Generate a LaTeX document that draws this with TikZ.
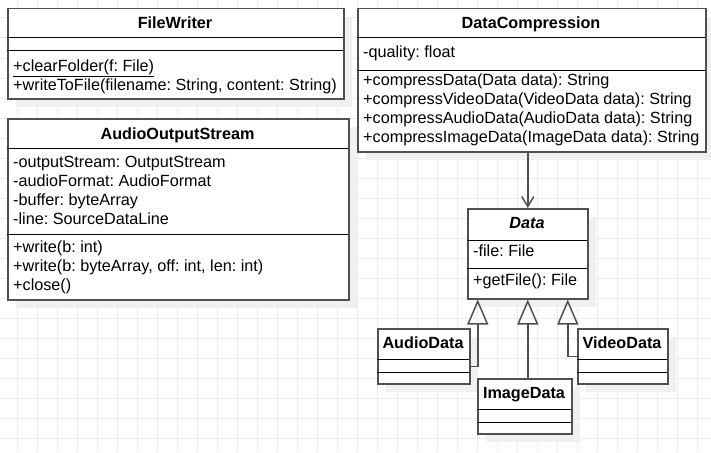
\documentclass[tikz,border=0pt]{standalone}
\usepackage{fontspec}
\setmainfont{Liberation Sans}
\usepackage{tikz}
\usetikzlibrary{arrows.meta, positioning, calc, shadows}
\usepackage{xcolor}
\definecolor{boxline}{RGB}{80,80,80}
\definecolor{gridgray}{RGB}{236,236,236}
\definecolor{shadowgray}{RGB}{240,240,240}
\frenchspacing

\begin{document}
\begin{tikzpicture}[x=1pt, y=-1pt,
  font=\fontsize{16.2}{19}\selectfont,
  classbox/.style={draw=boxline, line width=1.5pt, fill=white, anchor=north west, inner sep=0pt,
    drop shadow={shadow xshift=8pt, shadow yshift=-8pt, fill=shadowgray, opacity=1}},
  classtitle/.style={font=\fontsize{16.2}{19}\selectfont\bfseries, anchor=base, inner sep=0pt},
  member/.style={anchor=base west, inner sep=0pt},
  sep/.style={black, line width=1pt},
  inh/.style={boxline, line width=1.5pt, -{Triangle[open, length=25pt, width=21pt]}},
  dep/.style={boxline, line width=1.5pt, -{Straight Barb[length=10pt, width=12pt]}}]
  \useasboundingbox (0,0) rectangle (711,452);
  \fill[white] (0,0) rectangle (711,452);
  % Grid
  \foreach \gx in {17,37,...,697} \draw[gridgray, line width=1pt] (\gx,0) -- (\gx,452);
  \foreach \gy in {18,38,...,438} \draw[gridgray, line width=1pt] (0,\gy) -- (711,\gy);
  % FileWriter
  \node[classbox, minimum width=336pt, minimum height=90pt] (fw) at (7,8) {};
  \node[classtitle] (fw-title) at (175,29) {FileWriter};
  \draw[sep] (7,38) -- (343,38);
  \draw[sep] (7,51) -- (343,51);
  \node[member] (fw-m1) at (13,71) {\underline{+clearFolder(f: File)}};
  \node[member] (fw-m2) at (13,90) {+writeToFile(filename: String, content: String)};
  % DataCompression
  \node[classbox, minimum width=348pt, minimum height=143pt] (dc) at (357,8) {};
  \node[classtitle] (dc-title) at (531,29) {DataCompression};
  \draw[sep] (357,38) -- (705,38);
  \draw[sep] (357,70) -- (705,70);
  \node[member] (dc-a1) at (363,57) {-quality: float};
  \node[member] (dc-m1) at (363,85) {+compressData(Data data): String};
  \node[member] (dc-m2) at (363,104) {+compressVideoData(VideoData data): String};
  \node[member] (dc-m3) at (363,123) {+compressAudioData(AudioData data): String};
  \node[member] (dc-m4) at (363,142) {+compressImageData(ImageData data): String};
  % AudioOutputStream
  \node[classbox, minimum width=341pt, minimum height=181pt] (aos) at (7,118) {};
  \node[classtitle] (aos-title) at (177.5,139) {AudioOutputStream};
  \draw[sep] (7,148) -- (348,148);
  \draw[sep] (7,234) -- (348,234);
  \node[member] (aos-a1) at (13,167) {-outputStream: OutputStream};
  \node[member] (aos-a2) at (13,186) {-audioFormat: AudioFormat};
  \node[member] (aos-a3) at (13,205) {-buffer: byteArray};
  \node[member] (aos-a4) at (13,224) {-line: SourceDataLine};
  \node[member] (aos-m1) at (13,252) {+write(b: int)};
  \node[member] (aos-m2) at (13,271) {+write(b: byteArray, off: int, len: int)};
  \node[member] (aos-m3) at (13,290) {+close()};
  % Data
  \node[classbox, minimum width=120pt, minimum height=90pt] (data) at (467,208) {};
  \node[classtitle] (data-title) at (527,228) {\itshape Data};
  \draw[sep] (467,240) -- (587,240);
  \draw[sep] (467,268) -- (587,268);
  \node[member] (data-a1) at (473,256) {-file: File};
  \node[member] (data-m1) at (473,285) {+getFile(): File};
  % Subclasses
  \node[classbox, minimum width=92pt, minimum height=55pt] (ad) at (377,328) {};
  \node[classtitle] (ad-title) at (423,348) {AudioData};
  \draw[sep] (377,359) -- (469,359);
  \draw[sep] (377,372) -- (469,372);
  \node[classbox, minimum width=90pt, minimum height=55pt] (vd) at (577,328) {};
  \node[classtitle] (vd-title) at (622,348) {VideoData};
  \draw[sep] (577,359) -- (667,359);
  \draw[sep] (577,372) -- (667,372);
  \node[classbox, minimum width=94pt, minimum height=55pt] (id) at (477,378) {};
  \node[classtitle] (id-title) at (524,398) {ImageData};
  \draw[sep] (477,409) -- (571,409);
  \draw[sep] (477,422) -- (571,422);
  % Relations
  \draw[dep] (dc.south -| data.north) -- (data.north);
  \draw[inh] ([yshift=-10pt]ad.east) -| ([xshift=-50pt]data.south);
  \draw[inh] (id.north -| data.south) -- (data.south);
  \draw[inh] (vd.west) -| ([xshift=40pt]data.south);
\end{tikzpicture}
\end{document}
